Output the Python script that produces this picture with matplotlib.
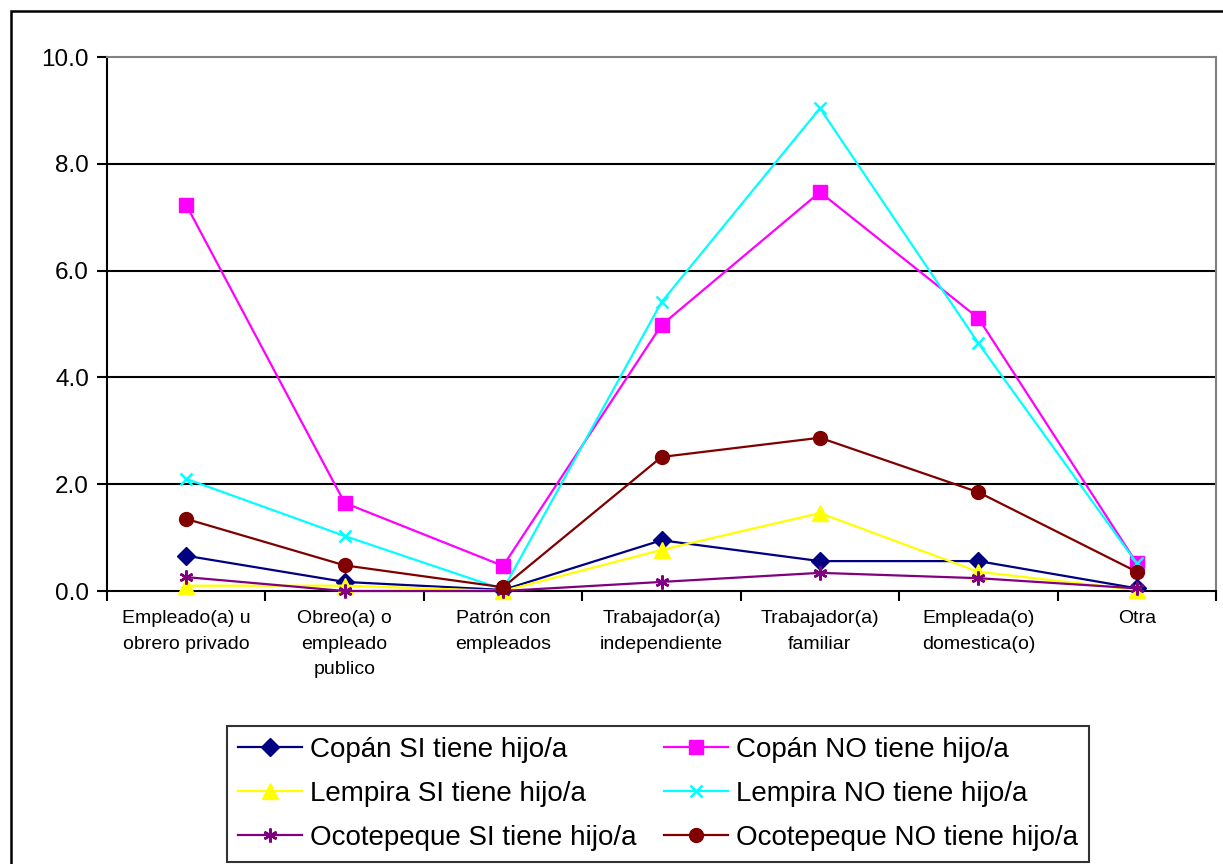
import numpy as np
import matplotlib.pyplot as plt
from matplotlib.patches import Rectangle

categories = ["Empleado(a) u\nobrero privado", "Obreo(a) o\nempleado\npublico",
              "Patrón con\nempleados", "Trabajador(a)\nindependiente",
              "Trabajador(a)\nfamiliar", "Empleada(o)\ndomestica(o)", "Otra"]

copan_si = [0.66, 0.17, 0.02, 0.95, 0.56, 0.56, 0.05]
copan_no = [7.23, 1.65, 0.47, 4.98, 7.47, 5.11, 0.52]
lempira_si = [0.10, 0.10, 0.00, 0.77, 1.46, 0.36, 0.02]
lempira_no = [2.10, 1.03, 0.03, 5.41, 9.04, 4.64, 0.52]
ocote_si = [0.26, 0.00, 0.00, 0.17, 0.34, 0.24, 0.05]
ocote_no = [1.35, 0.48, 0.07, 2.51, 2.87, 1.85, 0.36]

series = [
    ("Copán SI tiene hijo/a", copan_si, "#000080", "D", 9, 1),
    ("Copán NO tiene hijo/a", copan_no, "#FF00FF", "s", 10, 1),
    ("Lempira SI tiene hijo/a", lempira_si, "#FFFF00", "^", 11, 1),
    ("Lempira NO tiene hijo/a", lempira_no, "#00FFFF", "x", 9, 1.8),
    ("Ocotepeque SI tiene hijo/a", ocote_si, "#800080", (6, 2, 0), 10, 1.8),
    ("Ocotepeque NO tiene hijo/a", ocote_no, "#800000", "o", 10, 1),
]

plt.rcParams['font.family'] = ['Liberation Sans', 'DejaVu Sans']

fig = plt.figure(figsize=(12.23, 8.64), dpi=100)
ax = fig.add_axes([107 / 1223, 1 - 591 / 864, (1216 - 107) / 1223, (591 - 57) / 864])

x = np.arange(len(categories))
lines = {}
for label, vals, col, mk, ms, mew in series:
    ln, = ax.plot(x, vals, color=col, marker=mk, markersize=ms, markeredgewidth=mew,
                  markeredgecolor=col, markerfacecolor=col, linewidth=1.6, label=label,
                  clip_on=False, zorder=3)
    lines[label] = ln

ax.set_xlim(-0.5, 6.5)
ax.set_ylim(0, 10)
ax.set_yticks(np.arange(0, 10.1, 2))
ax.set_yticklabels([f"{v:.1f}" for v in np.arange(0, 10.1, 2)], fontsize=17.5)
for yv in [2, 4, 6, 8]:
    ax.axhline(yv, color="black", linewidth=1.5, zorder=1)

ax.set_xticks(x)
ax.set_xticklabels(categories, fontsize=14, linespacing=1.65)
ax.tick_params(axis="x", which="major", length=0, pad=14)
ax.set_xticks(np.arange(-0.5, 7, 1), minor=True)
ax.tick_params(axis="x", which="minor", length=7, width=1.5, direction="out")
ax.tick_params(axis="y", length=7, width=1.5, direction="out", pad=6)

ax.spines["left"].set_linewidth(1.5)
ax.spines["bottom"].set_linewidth(1.5)
ax.spines["top"].set_color("#808080")
ax.spines["top"].set_linewidth(1.5)
ax.spines["right"].set_color("#808080")
ax.spines["right"].set_linewidth(1.5)

# legend filled row by row: SI on the left, NO on the right
order = [0, 2, 4, 1, 3, 5]
handles = [lines[series[i][0]] for i in order]
labels = [series[i][0] for i in order]
leg = fig.legend(handles, labels, loc="lower left",
                 bbox_to_anchor=(227 / 1223, 2 / 864, (1089 - 227) / 1223, (862 - 720) / 864),
                 mode="expand", ncol=2, fontsize=20, frameon=True, fancybox=False,
                 handlelength=2.3, borderaxespad=0, labelspacing=0.65, columnspacing=1.0,
                 handletextpad=0.3, borderpad=0.4)
leg.get_frame().set_edgecolor("black")
leg.get_frame().set_linewidth(1.5)

fig.patches.append(Rectangle((11 / 1223, -0.05), 1.1, 1 - 11 / 864 + 0.05, transform=fig.transFigure,
                             fill=False, edgecolor="black", linewidth=1.8))

fig.savefig("out.png", dpi=100)
